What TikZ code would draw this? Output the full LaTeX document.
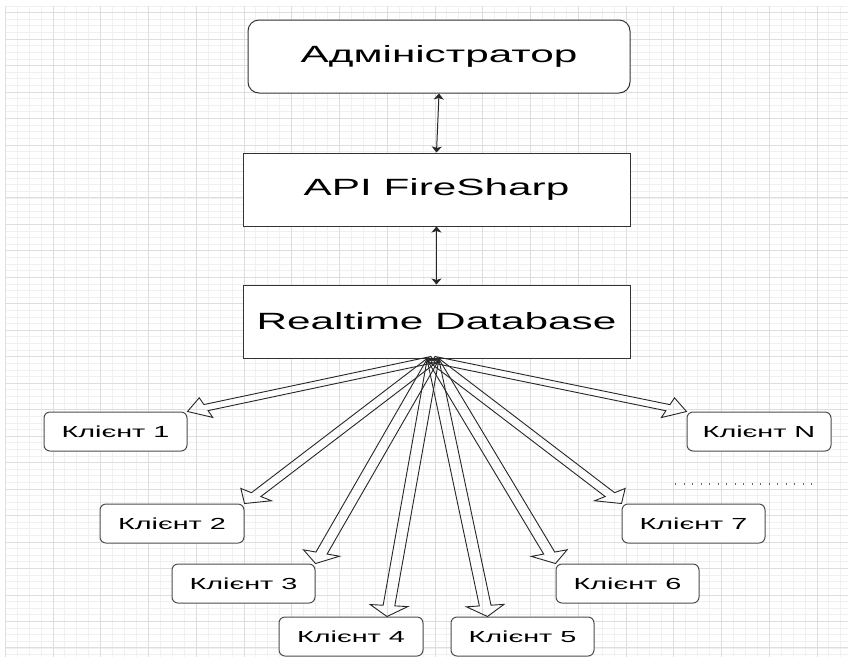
\documentclass[tikz,border=0pt]{standalone}
\usepackage{fontspec}
\setmainfont{Liberation Sans}
\usepackage{graphicx}
\usetikzlibrary{arrows.meta,calc}
\newcommand\wtxt[1]{\scalebox{1.8}[1]{#1}}
\def\flw{3.25}
\def\flh{11}
\def\flhw{10.5}
\newcommand\flexarr[2]{%
  \path (#1); \pgfgetlastxy{\fxa}{\fya}%
  \path (#2); \pgfgetlastxy{\fxb}{\fyb}%
  \pgfmathsetmacro\ax{\fxa}\pgfmathsetmacro\ay{\fya}%
  \pgfmathsetmacro\bx{\fxb}\pgfmathsetmacro\by{\fyb}%
  \pgfmathsetmacro\fdx{(\bx-\ax)/1.8}%
  \pgfmathsetmacro\fdy{\by-\ay}%
  \pgfmathsetmacro\fL{veclen(\fdx,\fdy)}%
  \pgfmathsetmacro\fux{\fdx/\fL}%
  \pgfmathsetmacro\fuy{\fdy/\fL}%
  \pgfmathsetmacro\fpx{-\fuy}%
  \pgfmathsetmacro\fpy{\fux}%
  \pgfmathsetmacro\slx{\ax+1.8*\flw*\fpx}\pgfmathsetmacro\sly{\ay+\flw*\fpy}%
  \pgfmathsetmacro\srx{\ax-1.8*\flw*\fpx}\pgfmathsetmacro\sry{\ay-\flw*\fpy}%
  \pgfmathsetmacro\Bx{\bx-1.8*\flh*\fux}\pgfmathsetmacro\By{\by-\flh*\fuy}%
  \pgfmathsetmacro\blx{\Bx+1.8*\flw*\fpx}\pgfmathsetmacro\bly{\By+\flw*\fpy}%
  \pgfmathsetmacro\brx{\Bx-1.8*\flw*\fpx}\pgfmathsetmacro\bry{\By-\flw*\fpy}%
  \pgfmathsetmacro\hlx{\Bx+1.8*\flhw*\fpx}\pgfmathsetmacro\hly{\By+\flhw*\fpy}%
  \pgfmathsetmacro\hrx{\Bx-1.8*\flhw*\fpx}\pgfmathsetmacro\hry{\By-\flhw*\fpy}%
  \draw[flex] (\slx pt,\sly pt) -- (\blx pt,\bly pt) -- (\hlx pt,\hly pt) -- (#2)
     -- (\hrx pt,\hry pt) -- (\brx pt,\bry pt) -- (\srx pt,\sry pt) -- cycle;%
}
\tikzset{
  box/.style={draw=black!80, line width=1pt, fill=white, minimum width=387pt,
    minimum height=73pt, inner sep=0pt, font=\fontsize{23.5}{28}\selectfont},
  cbox/.style={draw=black!70, line width=1pt, fill=white, rounded corners=6pt,
    minimum width=143pt, minimum height=39pt, inner sep=0pt, font=\fontsize{16}{19}\selectfont},
  flex/.style={draw=black!85, line width=0.9pt, line join=miter},
  conn/.style={{Stealth[length=6pt,width=10pt,inset=1.5pt]}-{Stealth[length=6pt,width=10pt,inset=1.5pt]},
    line width=1pt, black!85},
  gridminor/.style={line width=1pt, black!6},
  gridmajor/.style={line width=1pt, black!13},
  dotline/.style={line width=1.2pt, black!60, dash pattern=on 1.2pt off 7.3pt},
}
\begin{document}
\begin{tikzpicture}[x=1pt,y=-1pt]
\useasboundingbox (0,0) rectangle (848,657);
\fill[white] (0,0) rectangle (848,657);
% grid
\foreach \i in {0,...,70} {\draw[gridminor] ({5.25+11.9375*\i},6) -- ({5.25+11.9375*\i},657);}
\foreach \j in {0,...,98} {\draw[gridminor] (5,{6.1+6.6175*\j}) -- (848,{6.1+6.6175*\j});}
\foreach \i in {0,...,17} {\draw[gridmajor] ({5.25+47.75*\i},6) -- ({5.25+47.75*\i},657);}
\foreach \j in {0,...,24} {\draw[gridmajor] (5,{12.7+26.47*\j}) -- (848,{12.7+26.47*\j});}

% main boxes
\node[box, rounded corners=11pt, minimum width=382pt] (admin) at (439,56.5) {\wtxt{Адміністратор}};
\node[box] (api) at (436.5,189.5) {\wtxt{API FireSharp}};
\node[box] (db) at (436.5,321.5) {\wtxt{Realtime Database}};

\draw[conn] (admin.south) -- (api.north);
\draw[conn] (api.south) -- (db.north);

% clients
\node[cbox] (c1) at (115.5,431.5) {\wtxt{Клієнт 1}};
\node[cbox, minimum width=144pt] (c2) at (172,523.5) {\wtxt{Клієнт 2}};
\node[cbox] (c3) at (243.5,583.5) {\wtxt{Клієнт 3}};
\node[cbox, minimum width=144pt] (c4) at (351,636.5) {\wtxt{Клієнт 4}};
\node[cbox] (c5) at (522.5,636.5) {\wtxt{Клієнт 5}};
\node[cbox] (c6) at (627.5,583.5) {\wtxt{Клієнт 6}};
\node[cbox] (c7) at (693.5,523.5) {\wtxt{Клієнт 7}};
\node[cbox, minimum width=144pt] (cN) at (759,431.5) {\wtxt{Клієнт N}};

\coordinate (o) at ([xshift=-3.5pt,yshift=-1pt]db.south);
\coordinate (t4) at ([xshift=36pt]c4.north);
\coordinate (t5) at ([xshift=-35pt]c5.north);

\flexarr{o}{c1.north east}
\flexarr{o}{c2.north east}
\flexarr{o}{c3.north east}
\flexarr{o}{t4}
\flexarr{o}{t5}
\flexarr{o}{c6.north west}
\flexarr{o}{c7.north west}
\flexarr{o}{cN.north west}

\coordinate (dl) at (675,484);
\coordinate (dr) at (812,484);
\draw[dotline] (dl) -- (dr);
\end{tikzpicture}
\end{document}
